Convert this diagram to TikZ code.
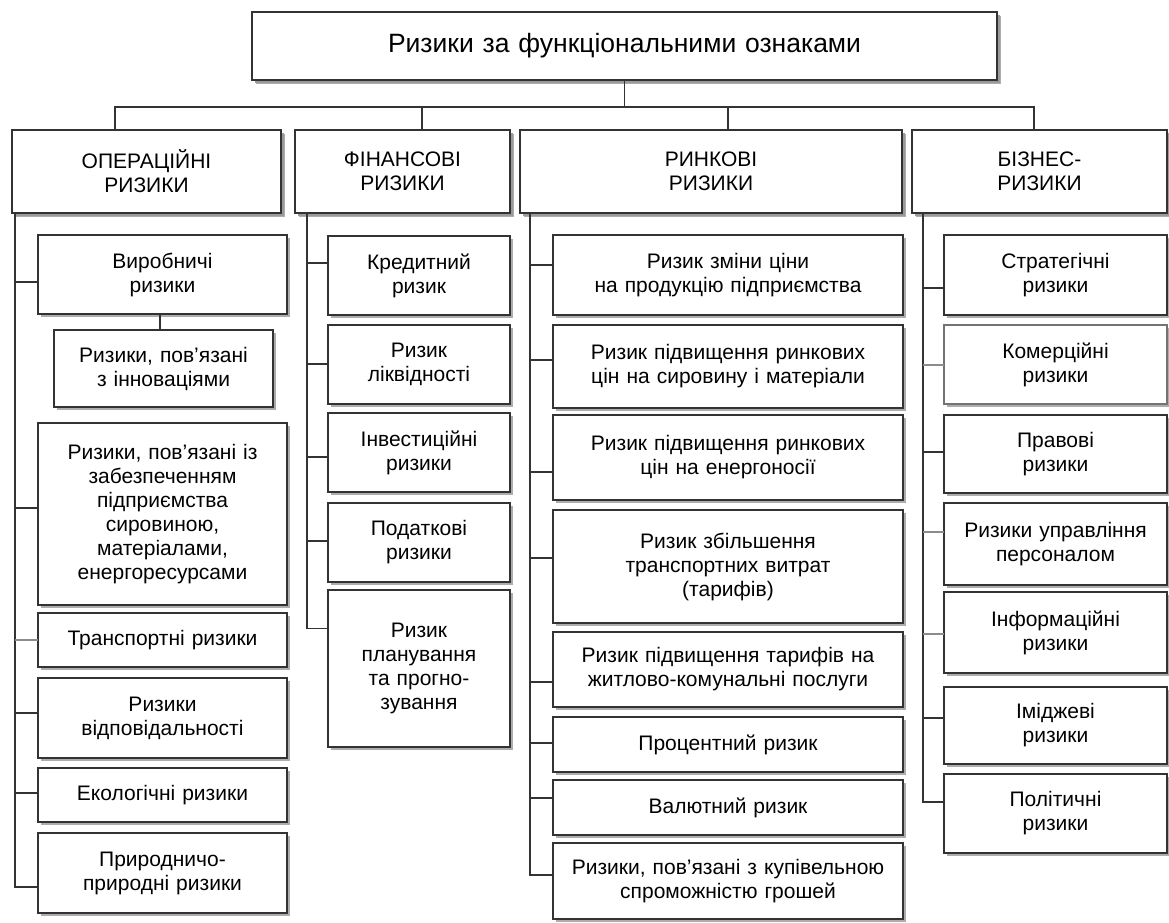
\documentclass[tikz,border=0pt]{standalone}
\usepackage{fontspec}
\setmainfont{Liberation Sans}
\usetikzlibrary{shadows,calc}
\newcommand\bx[7][]{\node[box,#1,minimum width={#4-#2},minimum height={#5-#3},text width={#4-#2-8}] (#6) at ({(#2+#4)/2},{(#3+#5)/2}) {#7};}
\newcommand\stubto[4][ln]{\path ([yshift=#3pt]#2.west) coordinate (tmpS); \draw[#1] (tmpS) -- (tmpS -| #4);}
\begin{document}
\begin{tikzpicture}[x=1pt,y=-1pt,
  box/.style={draw=black!80,line width=1.4pt,fill=white,inner sep=0pt,outer sep=0pt,align=center,
    font=\fontsize{21}{24}\selectfont,
    drop shadow={shadow xshift=2.5pt,shadow yshift=-2.5pt,fill=black!40,opacity=0.8}},
  hbox/.style={box,drop shadow={shadow xshift=3.5pt,shadow yshift=-3.5pt,fill=black!40,opacity=0.8}},
  ln/.style={draw=black!80,line width=1.4pt},
  lnl/.style={draw=black!45,line width=1.4pt}]
\useasboundingbox (0,0) rectangle (1169,922);
\begin{scope}
\clip (0,0) rectangle (1169,922);
% title
\bx[hbox,font=\fontsize{26.5}{30}\selectfont]{252}{12}{997}{80}{top}{Ризики за функціональними ознаками}
% headers
\bx[hbox]{12}{130}{281}{213}{hop}{ОПЕРАЦІЙНІ\\РИЗИКИ}
\bx[hbox]{295}{130}{510}{213}{hfin}{ФІНАНСОВІ\\РИЗИКИ}
\bx[hbox]{520}{130}{902}{213}{hmar}{РИНКОВІ\\РИЗИКИ}
\bx[hbox]{912}{130}{1167}{213}{hbus}{БІЗНЕС-\\РИЗИКИ}
% bus
\coordinate (b1) at (115,107);
\coordinate (b2) at (422,107);
\coordinate (b3) at (728,107);
\coordinate (b4) at (1034,107);
\draw[ln] (b1 |- hop.north) -- (b1) -- (b4) -- (b4 |- hbus.north);
\draw[ln] (b2) -- (b2 |- hfin.north);
\draw[ln] (b3) -- (b3 |- hmar.north);
\draw[ln] (top.south) -- (top.south |- b1);
% column 1
\bx{38}{235}{287}{314}{op1}{Виробничі\\ризики}
\bx{54}{330}{273}{407}{op2}{Ризики, пов’язані\\з інноваціями}
\bx{38}{423}{287}{605}{op3}{Ризики, пов’язані із\\забезпеченням\\підприємства\\сировиною,\\матеріалами,\\енергоресурсами}
\bx{38}{613}{287}{667}{op4}{Транспортні ризики}
\bx{38}{678}{287}{758}{op5}{Ризики\\відповідальності}
\bx{38}{768}{287}{822}{op6}{Екологічні ризики}
\bx{38}{833}{287}{913}{op7}{Природничо-\\природні ризики}
\draw[ln] (op2.north -| 160,0) -- (op1.south -| 160,0);
\coordinate (t1) at (15,213);
\path ([yshift=-14pt]op7.west) coordinate (e1);
\draw[ln] (t1) |- (e1);
\stubto{op1}{-7.5}{t1}
\stubto{op3}{6}{t1}
\stubto[lnl]{op4}{0}{t1}
\stubto{op5}{5}{t1}
\stubto{op6}{2}{t1}
% column 2
\bx{328}{236}{510}{315}{fin1}{Кредитний\\ризик}
\bx{328}{325}{510}{404}{fin2}{Ризик\\ліквідності}
\bx{328}{413}{510}{492}{fin3}{Інвестиційні\\ризики}
\bx{328}{503}{510}{582}{fin4}{Податкові\\ризики}
\bx{328}{590}{510}{747}{fin5}{Ризик\\планування\\та прогно-\\зування}
\coordinate (t2) at (307,213);
\path ([yshift=40pt]fin5.west) coordinate (e2);
\draw[ln] (t2) |- (e2);
\stubto{fin1}{12.5}{t2}
\stubto{fin2}{0.5}{t2}
\stubto{fin3}{-4.5}{t2}
\stubto{fin4}{1.5}{t2}
% column 3
\bx{553}{235}{903}{315}{mar1}{Ризик зміни ціни\\на продукцію підприємства}
\bx{553}{325}{903}{408}{mar2}{Ризик підвищення ринкових\\цін на сировину і матеріали}
\bx{553}{415}{903}{500}{mar3}{Ризик підвищення ринкових\\цін на енергоносії}
\bx{553}{510}{903}{623}{mar4}{Ризик збільшення\\транспортних витрат\\(тарифів)}
\bx{553}{632}{903}{707}{mar5}{Ризик підвищення тарифів на\\житлово-комунальні послуги}
\bx{553}{717}{903}{772}{mar6}{Процентний ризик}
\bx{553}{780}{903}{835}{mar7}{Валютний ризик}
\bx{553}{843}{903}{919}{mar8}{Ризики, пов’язані з купівельною\\спроможністю грошей}
\coordinate (t3) at (530,213);
\path ([yshift=6pt]mar8.west) coordinate (e3);
\draw[ln] (t3) |- (e3);
\stubto{mar1}{10}{t3}
\stubto{mar2}{6.5}{t3}
\stubto{mar3}{-14.5}{t3}
\stubto{mar4}{8.5}{t3}
\stubto{mar5}{-12.5}{t3}
\stubto{mar6}{1.5}{t3}
\stubto{mar7}{9.5}{t3}
% column 4
\bx{944}{235}{1167}{315}{bus1}{Стратегічні\\ризики}
\bx[draw=black!55]{944}{325}{1167}{404}{bus2}{Комерційні\\ризики}
\bx{944}{415}{1167}{493}{bus3}{Правові\\ризики}
\bx{944}{503}{1167}{585}{bus4}{Ризики управління\\персоналом}
\bx{944}{592}{1167}{673}{bus5}{Інформаційні\\ризики}
\bx{944}{687}{1167}{764}{bus6}{Іміджеві\\ризики}
\bx{944}{774}{1167}{853}{bus7}{Політичні\\ризики}
\coordinate (t4) at (923,213);
\path ([yshift=11.5pt]bus7.west) coordinate (e4);
\draw[ln] (t4) |- (e4);
\stubto{bus1}{-13}{t4}
\stubto[lnl]{bus2}{-0.5}{t4}
\stubto{bus3}{2}{t4}
\stubto[lnl]{bus4}{12}{t4}
\stubto[lnl]{bus5}{-1.5}{t4}
\stubto{bus6}{7.5}{t4}
\end{scope}
\end{tikzpicture}
\end{document}
